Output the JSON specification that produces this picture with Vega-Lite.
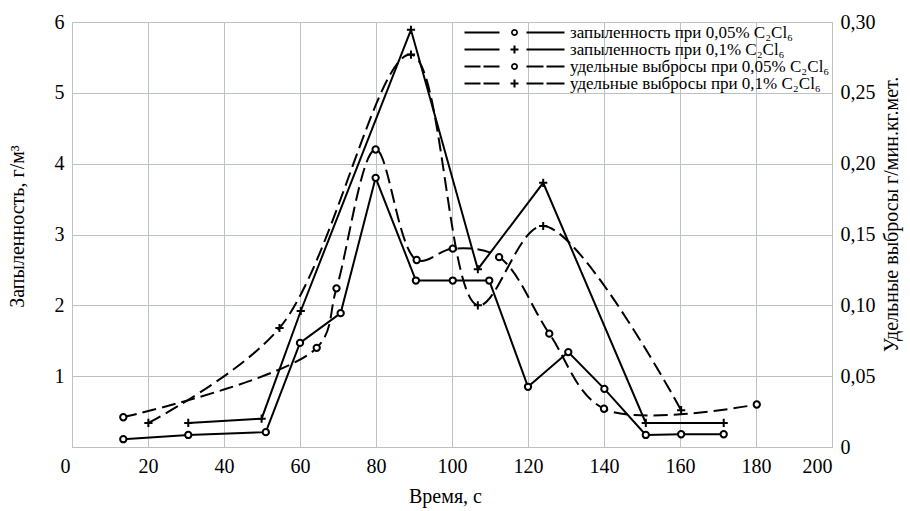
{
  "$schema": "https://vega.github.io/schema/vega-lite/v6.json",
  "width": 760,
  "height": 425,
  "autosize": {"type": "none"},
  "padding": {"left": 72, "top": 22, "right": 78, "bottom": 64},
  "background": "white",
  "config": {
    "view": {"stroke": "#bcc1c6", "strokeWidth": 1},
    "font": "Liberation Serif",
    "axis": {
      "labelFont": "Liberation Serif",
      "titleFont": "Liberation Serif",
      "labelFontSize": 20,
      "titleFontSize": 20,
      "titleFontWeight": "normal",
      "labelColor": "black",
      "titleColor": "black",
      "ticks": false,
      "domainColor": "#bcc1c6",
      "gridColor": "#bcc1c6",
      "gridWidth": 1,
      "domainWidth": 1
    },
    "legend": {
      "orient": "top-right",
      "offset": 2,
      "padding": 0,
      "labelFont": "Liberation Serif",
      "labelFontSize": 17,
      "labelColor": "black",
      "labelLimit": 500,
      "symbolSize": 100,
      "symbolOffset": 45,
      "labelOffset": 47,
      "rowPadding": -1.3,
      "symbolStrokeWidth": 0,
      "symbolFillColor": "black",
      "symbolOpacity": 1
    }
  },
  "datasets": {
    "dust": [
      {"t": 13.5, "v": 0.11, "s": "запыленность при 0,05% C₂Cl₆"},
      {"t": 30.6, "v": 0.17, "s": "запыленность при 0,05% C₂Cl₆"},
      {"t": 51, "v": 0.21, "s": "запыленность при 0,05% C₂Cl₆"},
      {"t": 60, "v": 1.47, "s": "запыленность при 0,05% C₂Cl₆"},
      {"t": 70.7, "v": 1.89, "s": "запыленность при 0,05% C₂Cl₆"},
      {"t": 79.9, "v": 3.80, "s": "запыленность при 0,05% C₂Cl₆"},
      {"t": 90.5, "v": 2.35, "s": "запыленность при 0,05% C₂Cl₆"},
      {"t": 100.2, "v": 2.35, "s": "запыленность при 0,05% C₂Cl₆"},
      {"t": 109.8, "v": 2.35, "s": "запыленность при 0,05% C₂Cl₆"},
      {"t": 120, "v": 0.85, "s": "запыленность при 0,05% C₂Cl₆"},
      {"t": 130.6, "v": 1.34, "s": "запыленность при 0,05% C₂Cl₆"},
      {"t": 140.1, "v": 0.82, "s": "запыленность при 0,05% C₂Cl₆"},
      {"t": 151, "v": 0.17, "s": "запыленность при 0,05% C₂Cl₆"},
      {"t": 160.3, "v": 0.18, "s": "запыленность при 0,05% C₂Cl₆"},
      {"t": 171.5, "v": 0.18, "s": "запыленность при 0,05% C₂Cl₆"},
      {"t": 30.6, "v": 0.34, "s": "запыленность при 0,1% C₂Cl₆"},
      {"t": 49.9, "v": 0.40, "s": "запыленность при 0,1% C₂Cl₆"},
      {"t": 60.2, "v": 1.92, "s": "запыленность при 0,1% C₂Cl₆"},
      {"t": 89.2, "v": 5.89, "s": "запыленность при 0,1% C₂Cl₆"},
      {"t": 106.8, "v": 2.51, "s": "запыленность при 0,1% C₂Cl₆"},
      {"t": 124, "v": 3.73, "s": "запыленность при 0,1% C₂Cl₆"},
      {"t": 151, "v": 0.34, "s": "запыленность при 0,1% C₂Cl₆"},
      {"t": 171.5, "v": 0.34, "s": "запыленность при 0,1% C₂Cl₆"}
    ],
    "emis": [
      {"t": 13.5, "v": 0.021, "s": "удельные выбросы при 0,05% C₂Cl₆"},
      {"t": 64.4, "v": 0.070, "s": "удельные выбросы при 0,05% C₂Cl₆"},
      {"t": 69.6, "v": 0.112, "s": "удельные выбросы при 0,05% C₂Cl₆"},
      {"t": 79.9, "v": 0.210, "s": "удельные выбросы при 0,05% C₂Cl₆"},
      {"t": 90.7, "v": 0.132, "s": "удельные выбросы при 0,05% C₂Cl₆"},
      {"t": 100.2, "v": 0.140, "s": "удельные выбросы при 0,05% C₂Cl₆"},
      {"t": 112.4, "v": 0.134, "s": "удельные выбросы при 0,05% C₂Cl₆"},
      {"t": 125.6, "v": 0.080, "s": "удельные выбросы при 0,05% C₂Cl₆"},
      {"t": 140, "v": 0.027, "s": "удельные выбросы при 0,05% C₂Cl₆"},
      {"t": 180.2, "v": 0.030, "s": "удельные выбросы при 0,05% C₂Cl₆"},
      {"t": 20.1, "v": 0.017, "s": "удельные выбросы при 0,1% C₂Cl₆"},
      {"t": 54.6, "v": 0.084, "s": "удельные выбросы при 0,1% C₂Cl₆"},
      {"t": 89.2, "v": 0.277, "s": "удельные выбросы при 0,1% C₂Cl₆"},
      {"t": 106.8, "v": 0.100, "s": "удельные выбросы при 0,1% C₂Cl₆"},
      {"t": 124, "v": 0.156, "s": "удельные выбросы при 0,1% C₂Cl₆"},
      {"t": 160.3, "v": 0.026, "s": "удельные выбросы при 0,1% C₂Cl₆"}
    ],
    "legend": [
      {"s": "запыленность при 0,05% C₂Cl₆"},
      {"s": "запыленность при 0,1% C₂Cl₆"},
      {"s": "удельные выбросы при 0,05% C₂Cl₆"},
      {"s": "удельные выбросы при 0,1% C₂Cl₆"}
    ]
  },
  "layer": [
    {
      "data": {"name": "dust"},
      "encoding": {
        "x": {
          "field": "t",
          "type": "quantitative",
          "scale": {"domain": [0, 200], "nice": false, "zero": false},
          "axis": {
            "values": [0, 20, 40, 60, 80, 100, 120, 140, 160, 180, 200],
            "grid": true,
            "labelPadding": 9,
            "labelOffset": {"condition": {"test": "datum.value === 0", "value": -12}, "value": 0},
            "title": "Время, с",
            "titlePadding": 10,
            "titleX": 373
          }
        },
        "y": {
          "field": "v",
          "type": "quantitative",
          "scale": {"domain": [0, 6], "nice": false},
          "axis": {
            "orient": "left",
            "values": [0, 1, 2, 3, 4, 5, 6],
            "grid": true,
            "labelExpr": "datum.value === 0 ? '' : datum.label",
            "labelPadding": 8,
            "title": "Запыленность, г/м³",
            "titlePadding": 27,
            "titleY": 204
          }
        }
      },
      "layer": [
        {
          "mark": {"type": "line", "stroke": "black", "strokeWidth": 2},
          "encoding": {"detail": {"field": "s"}}
        },
        {
          "transform": [{"filter": "indexof(datum.s, '0,05') >= 0"}],
          "mark": {"type": "point", "shape": "circle", "filled": false, "fill": "white", "stroke": "black", "strokeWidth": 2, "opacity": 1, "size": 40}
        },
        {
          "transform": [{"filter": "indexof(datum.s, '0,1%') >= 0"}],
          "mark": {"type": "point", "shape": "M-1.3,0H1.3M0,-1.3V1.3", "filled": false, "stroke": "black", "strokeWidth": 2, "opacity": 1, "size": 40}
        }
      ]
    },
    {
      "data": {"name": "emis"},
      "encoding": {
        "x": {"field": "t", "type": "quantitative"},
        "y": {
          "field": "v",
          "type": "quantitative",
          "scale": {"domain": [0, 0.3], "nice": false},
          "axis": {
            "orient": "right",
            "values": [0, 0.05, 0.1, 0.15, 0.2, 0.25, 0.3],
            "grid": false,
            "labelExpr": "datum.value === 0 ? '0' : replace(format(datum.value, '.2f'), '.', ',')",
            "labelPadding": 8,
            "title": "Удельные выбросы г/мин.кг.мет.",
            "titleAngle": 270,
            "titleBaseline": "top",
            "titlePadding": 6,
            "titleY": 192
          }
        }
      },
      "layer": [
        {
          "mark": {"type": "line", "stroke": "black", "strokeWidth": 2, "strokeDash": [14, 6], "interpolate": "catmull-rom"},
          "encoding": {"detail": {"field": "s"}}
        },
        {
          "transform": [{"filter": "indexof(datum.s, '0,05') >= 0"}],
          "mark": {"type": "point", "shape": "circle", "filled": false, "fill": "white", "stroke": "black", "strokeWidth": 2, "opacity": 1, "size": 40}
        },
        {
          "transform": [{"filter": "indexof(datum.s, '0,1%') >= 0"}],
          "mark": {"type": "point", "shape": "M-1.3,0H1.3M0,-1.3V1.3", "filled": false, "stroke": "black", "strokeWidth": 2, "opacity": 1, "size": 40}
        }
      ]
    },
    {
      "data": {"name": "legend"},
      "transform": [{"filter": "false"}],
      "mark": {"type": "point", "filled": true, "color": "black", "fill": "black", "strokeWidth": 0, "opacity": 1, "size": 100},
      "encoding": {
        "shape": {
          "field": "s",
          "type": "nominal",
          "scale": {
            "domain": ["запыленность при 0,05% C₂Cl₆", "запыленность при 0,1% C₂Cl₆", "удельные выбросы при 0,05% C₂Cl₆", "удельные выбросы при 0,1% C₂Cl₆"],
            "range": [
              "M-10,-0.2L-3,-0.2L-3,0.2L-10,0.2ZM2.4,-0.2L10,-0.2L10,0.2L2.4,0.2ZM0.7,0L0.606,0.35L0.35,0.606L0,0.7L-0.35,0.606L-0.606,0.35L-0.7,0L-0.606,-0.35L-0.35,-0.606L0,-0.7L0.35,-0.606L0.606,-0.35ZM0.36,0L0.312,-0.18L0.18,-0.312L0,-0.36L-0.18,-0.312L-0.312,-0.18L-0.36,0L-0.312,0.18L-0.18,0.312L0,0.36L0.18,0.312L0.312,0.18Z",
              "M-10,-0.2L-3,-0.2L-3,0.2L-10,0.2ZM2.4,-0.2L10,-0.2L10,0.2L2.4,0.2ZM-0.8,-0.2L0.8,-0.2L0.8,0.2L-0.8,0.2ZM-0.2,-0.8L0.2,-0.8L0.2,0.8L-0.2,0.8Z",
              "M-10,-0.2L-6.8,-0.2L-6.8,0.2L-10,0.2ZM-6.2,-0.2L-3,-0.2L-3,0.2L-6.2,0.2ZM2.4,-0.2L5.8,-0.2L5.8,0.2L2.4,0.2ZM6.4,-0.2L10,-0.2L10,0.2L6.4,0.2ZM0.7,0L0.606,0.35L0.35,0.606L0,0.7L-0.35,0.606L-0.606,0.35L-0.7,0L-0.606,-0.35L-0.35,-0.606L0,-0.7L0.35,-0.606L0.606,-0.35ZM0.36,0L0.312,-0.18L0.18,-0.312L0,-0.36L-0.18,-0.312L-0.312,-0.18L-0.36,0L-0.312,0.18L-0.18,0.312L0,0.36L0.18,0.312L0.312,0.18Z",
              "M-10,-0.2L-6.8,-0.2L-6.8,0.2L-10,0.2ZM-6.2,-0.2L-3,-0.2L-3,0.2L-6.2,0.2ZM2.4,-0.2L5.8,-0.2L5.8,0.2L2.4,0.2ZM6.4,-0.2L10,-0.2L10,0.2L6.4,0.2ZM-0.8,-0.2L0.8,-0.2L0.8,0.2L-0.8,0.2ZM-0.2,-0.8L0.2,-0.8L0.2,0.8L-0.2,0.8Z"
            ]
          },
          "legend": {"title": null, "symbolOpacity": 1, "symbolFillColor": "black", "symbolStrokeWidth": 0}
        }
      }
    }
  ],
  "resolve": {"scale": {"y": "independent"}}
}
